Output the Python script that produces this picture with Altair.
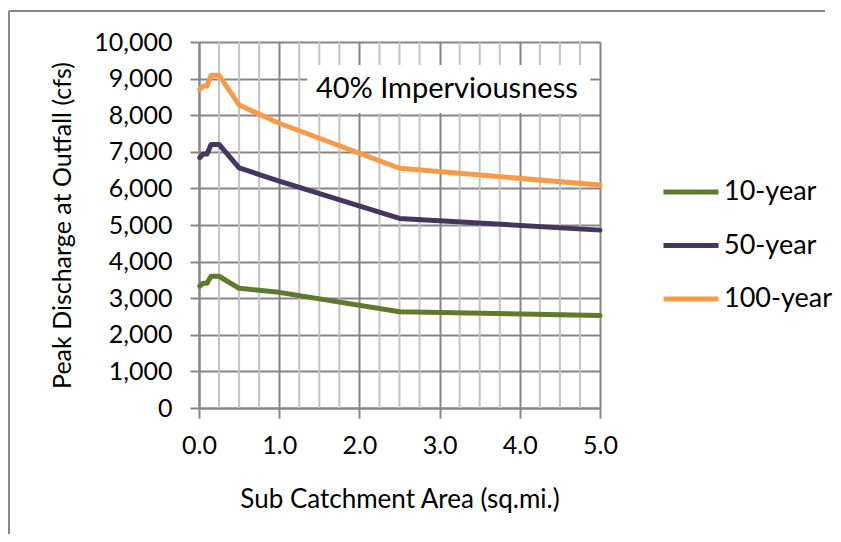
import altair as alt
import pandas as pd

# ---- data ----
area = [0.01, 0.05, 0.10, 0.15, 0.25, 0.5, 1.0, 2.5, 5.0]
q10 = [3330, 3410, 3410, 3600, 3600, 3270, 3160, 2630, 2525]
q50 = [6840, 6940, 6940, 7200, 7200, 6560, 6200, 5180, 4860]
q100 = [8710, 8800, 8800, 9090, 9090, 8280, 7780, 6550, 6090]
series = ["10-year", "50-year", "100-year"]
colors = ["#5E7A2E", "#46365E", "#F89B47"]
minor_x = [0.25, 0.5, 0.75, 1.25, 1.5, 1.75, 2.25, 2.5, 2.75,
           3.25, 3.5, 3.75, 4.25, 4.5, 4.75]
x_ticks = [0, 1, 2, 3, 4, 5]
y_ticks = list(range(0, 10001, 1000))

rows = []
for name, vals in zip(series, [q10, q50, q100]):
    for a, v in zip(area, vals):
        rows.append({"area": a, "q": v, "series": name})
df = pd.DataFrame(rows)

FONT = "Lato"
GRID_MAJOR = "#868686"
GRID_MINOR = "#C3C3C3"

xscale = alt.Scale(domain=[0, 5], nice=False, zero=True)
yscale = alt.Scale(domain=[0, 10000], nice=False)

xaxis = alt.Axis(values=x_ticks, format=".1f", grid=True,
                 gridColor=GRID_MAJOR, gridWidth=2,
                 tickColor=GRID_MAJOR, tickSize=10, tickWidth=2,
                 domainColor=GRID_MAJOR, domainWidth=2,
                 labelFontSize=25, labelFont=FONT, labelColor="#000",
                 labelPadding=15, labelOverlap=False, labelFlush=False,
                 title="Sub Catchment Area (sq.mi.)",
                 titleFont=FONT, titleFontSize=26,
                 titleFontWeight="normal", titleColor="#000",
                 titlePadding=28)
yaxis = alt.Axis(values=y_ticks, format=",d", grid=True,
                 gridColor=GRID_MAJOR, gridWidth=2,
                 tickColor=GRID_MAJOR, tickSize=9, tickWidth=2,
                 domainColor=GRID_MAJOR, domainWidth=2,
                 labelFontSize=25, labelFont=FONT, labelColor="#000",
                 labelPadding=18, labelOverlap=False, labelFlush=False,
                 title="Peak Discharge at Outfall (cfs)",
                 titleFont=FONT, titleFontSize=25,
                 titleFontWeight="normal", titleColor="#000",
                 titlePadding=18)

minor = alt.Chart(pd.DataFrame({"x": minor_x})).mark_rule(
    color=GRID_MINOR, strokeWidth=2
).encode(x=alt.X("x:Q", scale=xscale, axis=xaxis))

lines = alt.Chart(df).mark_line(
    strokeWidth=5, strokeJoin="round", strokeCap="round"
).encode(
    x=alt.X("area:Q", scale=xscale, axis=xaxis),
    y=alt.Y("q:Q", scale=yscale, axis=yaxis),
    color=alt.Color("series:N",
                    scale=alt.Scale(domain=series, range=colors),
                    sort=series,
                    legend=alt.Legend(
                        title=None, orient="none", legendX=462, legendY=120,
                        symbolType="stroke", symbolSize=3025,
                        symbolStrokeWidth=5, labelFontSize=27,
                        labelFont=FONT, labelColor="#000",
                        rowPadding=10.5, labelOffset=3,
                    )),
    detail="series:N",
)

# annotation box
box_df = pd.DataFrame({"x": [1.35], "x2": [4.88], "y": [9370], "y2": [8060],
                       "tx": [3.09], "ty": [8720],
                       "label": ["40% Imperviousness"]})
box = alt.Chart(box_df).mark_rect(fill="white").encode(
    x=alt.X("x:Q", scale=xscale, axis=xaxis), x2="x2",
    y=alt.Y("y:Q", scale=yscale, axis=yaxis), y2="y2")
label = alt.Chart(box_df).mark_text(
    font=FONT, fontSize=29, color="#000", align="center", baseline="middle"
).encode(x=alt.X("tx:Q", scale=xscale, axis=xaxis),
         y=alt.Y("ty:Q", scale=yscale, axis=yaxis), text="label:N")

one = pd.DataFrame({"a": [0]})
frame_top = alt.Chart(one).mark_rule(color="#888888", strokeWidth=2).encode(
    x=alt.value(-190), x2=alt.value(626), y=alt.value(-31))
frame_left = alt.Chart(one).mark_rule(color="#888888", strokeWidth=2).encode(
    x=alt.value(-190), y=alt.value(-31), y2=alt.value(520))

chart = alt.layer(frame_top, frame_left, minor, box, label, lines).properties(
    width=401, height=366,
    autosize=alt.AutoSizeParams(type="none"),
    padding={"left": 191, "top": 34, "right": 233, "bottom": 126},
).configure_view(stroke=None).configure(background="white")

chart.save("out.html", embed_options={"renderer": "svg", "actions": False})
